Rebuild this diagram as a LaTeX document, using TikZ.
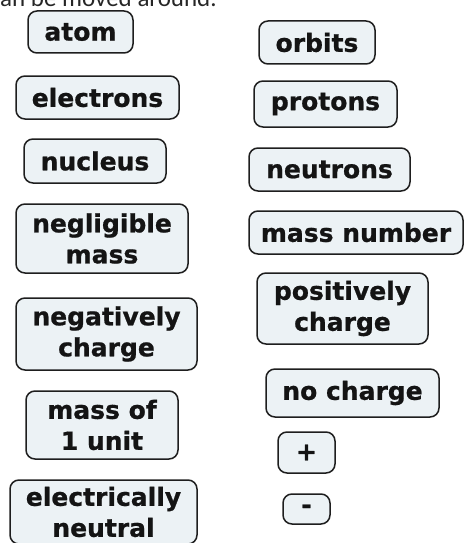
\documentclass[tikz,border=0pt]{standalone}
\usepackage{fontspec}
\setmainfont{DejaVu Sans}[BoldFeatures={FakeBold=0.8}]
\newfontfamily\topfont{Carlito}
\definecolor{boxfill}{RGB}{236,242,245}
\definecolor{boxline}{RGB}{30,30,30}
\tikzset{
  x=1pt, y=1pt,
  box/.style={draw=boxline, line width=1.5pt, rounded corners=9pt, fill=boxfill,
    inner sep=0pt, align=center, text=black!92,
    font=\bfseries\fontsize{25}{31}\selectfont},
  toptext/.style={anchor=base west, inner sep=0pt, font=\topfont\fontsize{25}{30}\selectfont, text=black!85}
}
\begin{document}
\begin{tikzpicture}
\useasboundingbox (0,0) rectangle (467,-543);
\clip (0,0) rectangle (467,-543);
\node[toptext] (top) at (0,-7) {an be moved around.};
% left column
\node[box, minimum width=105, minimum height=42] (atom) at (80.5,-32) {atom};
\node[box, minimum width=163, minimum height=43] (electrons) at (97.5,-97.5) {electrons};
\node[box, minimum width=142, minimum height=44] (nucleus) at (95,-161) {nucleus};
\node[box, minimum width=172, minimum height=69] (negligible) at (102,-238.5) {negligible\\mass};
\node[box, minimum width=181, minimum height=72] (negatively) at (106.5,-334) {negatively\\charge};
\node[box, minimum width=152, minimum height=68] (massof) at (102,-425) {mass of\\1 unit};
\node[box, minimum width=187, minimum height=64] (neutral) at (103.5,-512) {electrically\\neutral};
% right column
\node[box, minimum width=116, minimum height=43] (orbits) at (317,-42.5) {orbits};
\node[box, minimum width=143, minimum height=46] (protons) at (325.5,-104) {protons};
\node[box, minimum width=161, minimum height=43] (neutrons) at (329.5,-169.5) {neutrons};
\node[box, minimum width=214, minimum height=43] (massnumber) at (356,-232.5) {mass number};
\node[box, minimum width=171, minimum height=71] (positively) at (342.5,-308.5) {positively\\charge};
\node[box, minimum width=173, minimum height=48] (nocharge) at (352.5,-393) {no charge};
\node[box, minimum width=57, minimum height=41] (plus) at (306.5,-452.5) {+};
\node[box, minimum width=47, minimum height=30] (minus) at (306.5,-509) {-};
\end{tikzpicture}
\end{document}
